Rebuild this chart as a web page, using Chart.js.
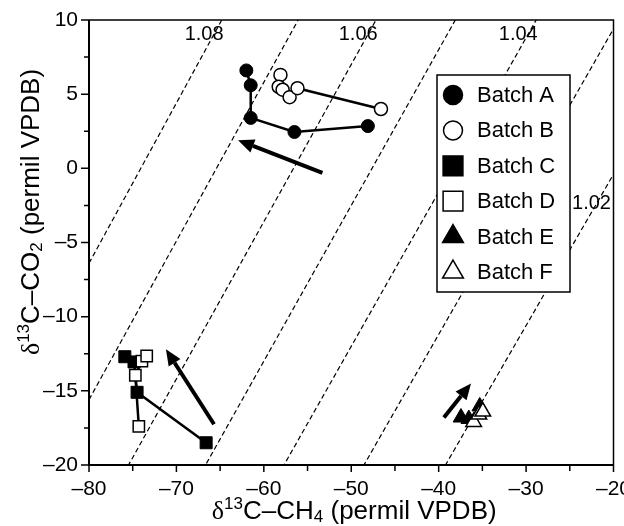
<!DOCTYPE html>
<html>
<head>
<meta charset="utf-8">
<script src="https://cdn.jsdelivr.net/npm/chart.js@4.4.0/dist/chart.umd.min.js"></script>
<style>
  html, body { margin: 0; padding: 0; background: #fff; }
  #wrap { width: 624px; height: 526px; }
</style>
</head>
<body>
<div id="wrap"><canvas id="chart" width="624" height="526"></canvas></div>
<script>
// values: [d13C-CH4, d13C-CO2]
const batchA = [[-62.0, 6.6], [-61.5, 5.6], [-61.5, 3.4], [-56.5, 2.45], [-48.1, 2.85]];
const batchB = [[-58.1, 6.3], [-58.3, 5.5], [-57.85, 5.3], [-57.05, 4.8], [-56.15, 5.4], [-46.6, 4.0]];
const batchC = [[-75.9, -12.7], [-74.85, -13.05], [-74.5, -15.1], [-66.6, -18.5]];
const batchD = [[-74.3, -17.4], [-74.7, -13.95], [-73.95, -13.0], [-73.4, -12.65]];
const batchE = [[-37.45, -16.8], [-36.55, -16.9], [-35.3, -16.05]];
const batchF = [[-36.0, -17.1], [-35.4, -16.6], [-34.95, -16.4]];

// trend arrows: [from, to]
const arrows = [
  [[-53.3, -0.3], [-62.95, 1.9]],
  [[-65.7, -17.25], [-71.2, -12.2]],
  [[-39.4, -16.8], [-36.3, -14.5]]
];

// fractionation factor lines and which of them carry a label
const ratios = [1.02, 1.03, 1.04, 1.05, 1.06, 1.07, 1.08];
const ratioLabels = [1.08, 1.06, 1.04, 1.02];

const xTicks = [-80, -70, -60, -50, -40, -30, -20];
const yTicks = [-20, -15, -10, -5, 0, 5, 10];

const FONT = '"Liberation Sans", Arial, sans-serif';

const pts = (arr) => arr.map(([x, y]) => ({ x, y }));
const fmt = (v) => (v < 0 ? '\u2013' + Math.abs(v) : String(v));

const ratioSets = ratios.map((r) => ({
  label: 'a' + r,
  data: [{ x: -80, y: r * 920 - 1000 }, { x: -20, y: r * 980 - 1000 }],
  showLine: true,
  borderColor: '#000',
  borderWidth: 1.2,
  borderDash: [5, 3],
  pointRadius: 0,
  order: 10
}));

const batches = [
  { label: 'Batch A', data: pts(batchA), pointStyle: 'circle', pointRadius: 6.5, backgroundColor: '#000',
    borderColor: '#000', borderWidth: 2.5, pointBorderWidth: 1, showLine: true, order: 2 },
  { label: 'Batch B', data: pts(batchB), pointStyle: 'circle', pointRadius: 6.5, backgroundColor: '#fff',
    borderColor: '#000', borderWidth: 2.5, pointBorderWidth: 1.5, showLine: true, order: 1,
    segment: { borderColor: (c) => (c.p1DataIndex === batchB.length - 1 ? '#000' : 'rgba(0,0,0,0)') } },
  { label: 'Batch C', data: pts(batchC), pointStyle: 'rect', pointRadius: 8.5, backgroundColor: '#000',
    borderColor: '#000', borderWidth: 2.5, pointBorderWidth: 1, showLine: true, order: 2 },
  { label: 'Batch D', data: pts(batchD), pointStyle: 'rect', pointRadius: 8, backgroundColor: '#fff',
    borderColor: '#000', borderWidth: 2.5, pointBorderWidth: 1.5, showLine: true, order: 1 },
  { label: 'Batch E', data: pts(batchE), pointStyle: 'triangle', pointRadius: 9, backgroundColor: '#000',
    borderColor: '#000', pointBorderWidth: 1, showLine: false, order: 2 },
  { label: 'Batch F', data: pts(batchF), pointStyle: 'triangle', pointRadius: 9, backgroundColor: '#fff',
    borderColor: '#000', pointBorderWidth: 1.5, showLine: false, order: 1 }
];

function drawRich(ctx, parts, cx, baseY) {
  let w = 0;
  parts.forEach((p) => { ctx.font = p[1] + 'px ' + (p[3] || FONT); w += ctx.measureText(p[0]).width; });
  let x = cx - w / 2;
  parts.forEach((p) => {
    ctx.font = p[1] + 'px ' + (p[3] || FONT);
    ctx.fillText(p[0], x, baseY + p[2]);
    x += ctx.measureText(p[0]).width;
  });
}

function drawArrow(ctx, x0, y0, x1, y1) {
  const ang = Math.atan2(y1 - y0, x1 - x0);
  const len = 16, half = 7;
  const bx = x1 - len * Math.cos(ang), by = y1 - len * Math.sin(ang);
  ctx.lineWidth = 4;
  ctx.beginPath();
  ctx.moveTo(x0, y0);
  ctx.lineTo(bx, by);
  ctx.stroke();
  ctx.beginPath();
  ctx.moveTo(x1, y1);
  ctx.lineTo(bx + half * Math.sin(ang), by - half * Math.cos(ang));
  ctx.lineTo(bx - half * Math.sin(ang), by + half * Math.cos(ang));
  ctx.closePath();
  ctx.fill();
}

const decor = {
  id: 'decor',
  afterDatasetsDraw(chart) {
    const { ctx, chartArea: a, scales: { x, y } } = chart;
    ctx.save();
    ctx.fillStyle = '#000';
    ctx.strokeStyle = '#000';

    // ratio labels
    ctx.font = '20px ' + FONT;
    ctx.textAlign = 'center';
    ctx.textBaseline = 'middle';
    ratioLabels.forEach((r) => {
      const yv = y.getValueForPixel(a.top + 14);
      const px = x.getPixelForValue((yv + 1000) / r - 1000);
      if (px < a.right - 30) {
        ctx.fillText(r.toFixed(2), px - 10, a.top + 14);
      } else {
        const xv = x.getValueForPixel(a.right - 19);
        const py = y.getPixelForValue(r * (1000 + xv) - 1000);
        ctx.fillText(r.toFixed(2), a.right - 22, py - 4);
      }
    });

    // arrows
    arrows.forEach(([f, t]) => {
      drawArrow(ctx, x.getPixelForValue(f[0]), y.getPixelForValue(f[1]),
        x.getPixelForValue(t[0]), y.getPixelForValue(t[1]));
    });
    ctx.restore();
  },
  afterDraw(chart) {
    const { ctx, chartArea: a, scales: { x, y } } = chart;
    ctx.save();
    ctx.fillStyle = '#000';
    ctx.strokeStyle = '#000';

    // frame
    ctx.lineWidth = 1.5;
    ctx.beginPath();
    ctx.moveTo(a.left, a.top);
    ctx.lineTo(a.right, a.top);
    ctx.lineTo(a.right, a.bottom);
    ctx.stroke();
    ctx.lineWidth = 2;
    ctx.beginPath();
    ctx.moveTo(a.left, a.top);
    ctx.lineTo(a.left, a.bottom);
    ctx.lineTo(a.right, a.bottom);
    ctx.stroke();

    // tick marks, major and minor
    ctx.lineWidth = 1.5;
    ctx.beginPath();
    xTicks.forEach((v, i) => {
      const px = x.getPixelForValue(v);
      ctx.moveTo(px, a.bottom); ctx.lineTo(px, a.bottom + 7);
      if (i < xTicks.length - 1) {
        const pm = x.getPixelForValue((v + xTicks[i + 1]) / 2);
        ctx.moveTo(pm, a.bottom); ctx.lineTo(pm, a.bottom + 6);
      }
    });
    yTicks.forEach((v, i) => {
      const py = y.getPixelForValue(v);
      ctx.moveTo(a.left, py); ctx.lineTo(a.left - 8, py);
      if (i < yTicks.length - 1) {
        const pm = y.getPixelForValue((v + yTicks[i + 1]) / 2);
        ctx.moveTo(a.left, pm); ctx.lineTo(a.left - 5, pm);
      }
    });
    ctx.stroke();

    // axis titles
    ctx.textAlign = 'left';
    ctx.textBaseline = 'alphabetic';
    drawRich(ctx, [['\u03b4', 26, 0, '"Liberation Serif", serif'], ['13', 17, -10], ['C\u2013CH', 26, 0], ['4', 17, 3],
      [' (permil VPDB)', 26, 0]], (a.left + a.right) / 2 + 3, 519);
    ctx.save();
    ctx.translate(39, 212);
    ctx.rotate(-Math.PI / 2);
    drawRich(ctx, [['\u03b4', 26, 0, '"Liberation Serif", serif'], ['13', 17, -10], ['C\u2013CO', 26, 0], ['2', 17, 3],
      [' (permil VPDB)', 26, 0]], 0, 0);
    ctx.restore();

    // legend
    const lx = 437, ly = 75, lw = 133, lh = 217;
    ctx.fillStyle = '#fff';
    ctx.fillRect(lx, ly, lw, lh);
    ctx.lineWidth = 1.5;
    ctx.strokeRect(lx, ly, lw, lh);
    ctx.font = '22px ' + FONT;
    ctx.textBaseline = 'middle';
    const sizes = { circle: 9.5, rect: 14, triangle: 12 };
    chart.data.datasets.filter((d) => d.label.startsWith('Batch')).forEach((d, i) => {
      const cy = ly + 20 + i * 35.4;
      ctx.fillStyle = d.backgroundColor;
      ctx.strokeStyle = '#000';
      ctx.lineWidth = 1.5;
      Chart.helpers.drawPoint(ctx, { pointStyle: d.pointStyle, radius: sizes[d.pointStyle], rotation: 0, borderWidth: 1.5 },
        lx + 16, cy);
      ctx.fillStyle = '#000';
      ctx.fillText(d.label, lx + 40, cy + 1);
    });
    ctx.restore();
  }
};

new Chart(document.getElementById('chart'), {
  type: 'scatter',
  data: { datasets: batches.concat(ratioSets) },
  options: {
    responsive: false,
    animation: false,
    layout: { padding: { top: 20, right: 5, left: 0, bottom: 0 } },
    plugins: { legend: { display: false }, tooltip: { enabled: false } },
    scales: {
      x: {
        type: 'linear', min: -80, max: -20,
        afterBuildTicks: (s) => { s.ticks = xTicks.map((v) => ({ value: v })); },
        afterFit: (s) => { s.height = 61; s.paddingLeft = 0; s.paddingRight = 0; },
        grid: { display: false, drawTicks: false },
        border: { display: false },
        ticks: { padding: 12, autoSkip: false, maxRotation: 0, color: '#000', font: { size: 21, family: FONT }, callback: fmt }
      },
      y: {
        type: 'linear', min: -20, max: 10,
        afterBuildTicks: (s) => { s.ticks = yTicks.map((v) => ({ value: v })); },
        afterFit: (s) => { s.width = 89; s.paddingTop = 0; s.paddingBottom = 0; },
        grid: { display: false, drawTicks: false },
        border: { display: false },
        ticks: { padding: 11, autoSkip: false, color: '#000', font: { size: 21, family: FONT }, callback: fmt }
      }
    }
  },
  plugins: [decor]
});
</script>
</body>
</html>
